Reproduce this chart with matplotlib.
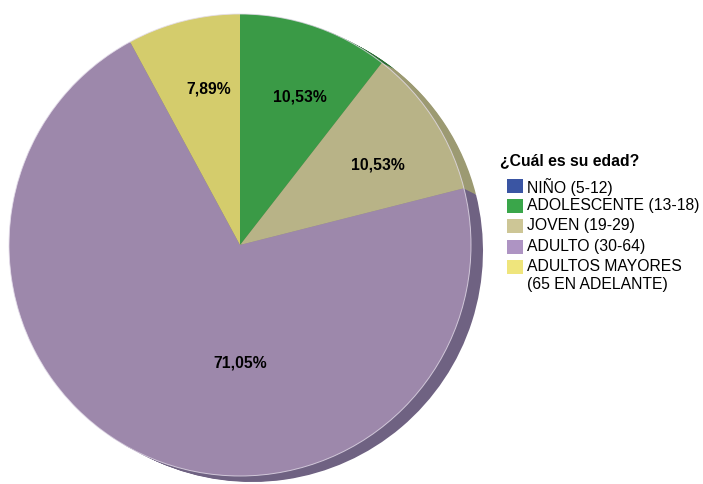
import numpy as np
import matplotlib.pyplot as plt
from matplotlib.patches import Rectangle, Circle

# datos de la encuesta (38 respuestas)
categorias = ['NIÑO (5-12)', 'ADOLESCENTE (13-18)', 'JOVEN (19-29)',
              'ADULTO (30-64)', 'ADULTOS MAYORES\n(65 EN ADELANTE)']
respuestas = [0, 4, 4, 27, 3]
titulo_leyenda = '¿Cuál es su edad?'

col_pie = ['#3b55a3', '#3a9a46', '#b8b387', '#9d88ab', '#d4cc6c']
col_sombra = ['#2a3c73', '#2a6e33', '#9c9a72', '#6f6282', '#a09a50']
col_leyenda = ['#3a55a3', '#3aa64a', '#cdc696', '#ae94c3', '#efe57c']

plt.rcParams['font.family'] = ['Liberation Sans', 'DejaVu Sans']

fig = plt.figure(figsize=(7.03, 4.84), dpi=100)
ax = fig.add_axes([0, 0, 1, 1])

cx, cy, r = 240, 239, 231

# "profundidad" 3D: pasteles desplazados hacia abajo a la derecha
for k in range(12, 0, -1):
    ax.pie(respuestas, colors=col_sombra, startangle=90, counterclock=False,
           center=(cx + k, cy - 0.5 * k), radius=r,
           wedgeprops=dict(linewidth=0))

wedges, _ = ax.pie(respuestas, colors=col_pie, startangle=90, counterclock=False,
                   center=(cx, cy), radius=r, wedgeprops=dict(linewidth=0))
ax.add_patch(Circle((cx, cy), r, fill=False, edgecolor='#e4dcea', lw=0.7, alpha=0.8))

total = sum(respuestas)
imax = int(np.argmax(respuestas))
for i, (w, v) in enumerate(zip(wedges, respuestas)):
    if v == 0:
        continue
    pct = 100 * v / total
    txt = f"{pct:.2f}".replace('.', ',') + '%'
    if i == imax:
        x, y = cx, cy - 0.51 * r
    else:
        # etiquetas un poco giradas, como en la vista 3D
        th = np.deg2rad((w.theta1 + w.theta2) / 2 - 3)
        x, y = cx + 0.69 * r * np.cos(th), cy + 0.69 * r * np.sin(th)
    ax.text(x, y, txt, ha='center', va='center', fontsize=11.3, fontweight='bold')

# leyenda
H = 484
ax.text(500, H - 161, titulo_leyenda, fontsize=11.3, fontweight='bold',
        ha='left', va='center')
ly = H - 186
for i, (cat, c) in enumerate(zip(categorias, col_leyenda)):
    ax.add_patch(Rectangle((507, ly - 7), 16, 14, facecolor=c, edgecolor='none'))
    ax.text(527, ly + 8, cat, fontsize=11.3, ha='left', va='top', linespacing=1.25)
    ly -= 20.2

ax.set_xlim(0, 703)
ax.set_ylim(0, 484)
ax.set_aspect('equal')
ax.axis('off')

fig.savefig('out.png', dpi=100)
